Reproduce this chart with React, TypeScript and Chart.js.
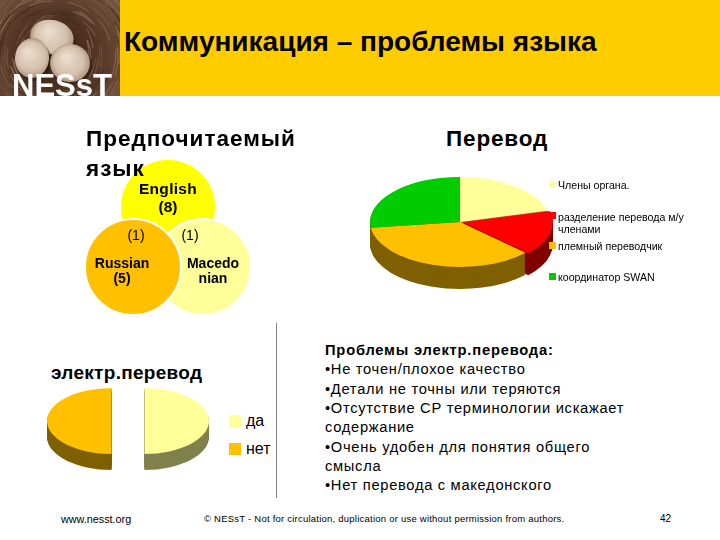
import React, { useEffect, useRef } from "react";
import { Chart, registerables } from "chart.js";

Chart.register(...registerables);

const SANS = '"Liberation Sans", Arial, sans-serif';

// pie "Перевод"
const translateLabels = [
  "Члены органа.",
  "разделение перевода м/у членами",
  "племный переводчик",
  "координатор SWAN",
];
const translateValues = [21, 16, 36, 27];
const translateOffsets = [0, 10, 0, 0];
const translateColors = ["#FFFF99", "#FF0000", "#FFC000", "#00CC00"];
// the green wall is only a sliver at the far left, the original shows it brown
const translateSides = ["#80804C", "#800000", "#7F6000", "#7F6000"];

// pie "электр.перевод"
const onlineLabels = ["да", "нет"];
const onlineValues = [50, 50];
const onlineColors = ["#FFFF99", "#FFC000"];
const onlineSides = ["#80804C", "#7F6000"];

// venn "Предпочитаемый язык"
const vennX = [0, 1, -1];
const vennY = [1, 0, 0];
const vennColors = ["#FFFF00", "#FFFF99", "#FFC000"];

const problemLines = [
  "•Не точен/плохое качество",
  "•Детали не точны или теряются",
  "•Отсутствие СР терминологии искажает",
  "содержание",
  "•Очень удобен для понятия общего",
  "смысла",
  "•Нет перевода с македонского",
];

// squashes the arcs into an ellipse and extrudes them downward
// explode pushes every slice out along its middle angle and keeps the cut edges straight
const tiltPlugin = {
  id: "tilt",
  beforeDatasetDraw(chart: any, args: any, opts: any) {
    const { ctx } = chart;
    const arcs = args.meta.data;
    const cx = arcs[0].x;
    const cy = arcs[0].y;
    const paint = (shift: number, colors?: string[]) => {
      arcs.forEach((arc: any, i: number) => {
        const saved = arc.options;
        const mid = (arc.startAngle + arc.endAngle) / 2;
        if (colors) arc.options = { ...saved, backgroundColor: colors[i] };
        ctx.save();
        ctx.translate(cx + Math.cos(mid) * opts.explode, cy + shift);
        ctx.scale(1, opts.squash);
        ctx.translate(-cx, -cy);
        arc.draw(ctx);
        ctx.restore();
        arc.options = saved;
      });
    };
    for (let d = opts.depth; d > 0; d--) paint(d, opts.sides);
    paint(0);
    return false;
  },
};

function Pie3D({ labels, values, offsets, colors, sides, radius, squash, depth, explode, style }: any) {
  const canvasRef = useRef<HTMLCanvasElement | null>(null);

  useEffect(() => {
    const chart = new Chart(canvasRef.current as HTMLCanvasElement, {
      type: "pie",
      data: {
        labels,
        datasets: [
          {
            data: values,
            backgroundColor: colors,
            offset: offsets || 0,
            borderWidth: 0,
            radius,
          },
        ],
      },
      options: {
        animation: false,
        responsive: false,
        events: [],
        plugins: {
          legend: { display: false },
          tooltip: { enabled: false },
          tilt: { squash, depth, sides, explode: explode || 0 },
        },
      } as any,
      plugins: [tiltPlugin],
    });
    return () => chart.destroy();
  }, []);

  return (
    <canvas
      ref={canvasRef}
      width={style.width}
      height={style.height}
      style={{ position: "absolute", ...style }}
    />
  );
}

function VennChart({ style }: any) {
  const canvasRef = useRef<HTMLCanvasElement | null>(null);

  useEffect(() => {
    const chart = new Chart(canvasRef.current as HTMLCanvasElement, {
      type: "bubble",
      data: {
        datasets: [
          {
            data: vennX.map((x, i) => ({ x, y: vennY[i], r: 48 })),
            backgroundColor: vennColors,
            borderColor: "#FFFFFF",
            borderWidth: 2,
            clip: false,
          },
        ],
      },
      options: {
        animation: false,
        responsive: false,
        events: [],
        layout: { padding: 0, autoPadding: false },
        scales: {
          x: { display: false, min: -100 / 35, max: 100 / 35 },
          y: { display: false, min: -63 / 60, max: 117 / 60 },
        },
        plugins: { legend: { display: false }, tooltip: { enabled: false } },
      },
    });
    return () => chart.destroy();
  }, []);

  return (
    <canvas
      ref={canvasRef}
      width={style.width}
      height={style.height}
      style={{ position: "absolute", ...style }}
    />
  );
}

// the nest photo in the header corner
function NestPicture() {
  const canvasRef = useRef<HTMLCanvasElement | null>(null);

  useEffect(() => {
    const ctx = (canvasRef.current as HTMLCanvasElement).getContext("2d");
    if (!ctx) return;
    const bg = ctx.createRadialGradient(55, 55, 10, 55, 55, 90);
    bg.addColorStop(0, "#3A2418");
    bg.addColorStop(0.5, "#5A3A28");
    bg.addColorStop(1, "#7A5E48");
    ctx.fillStyle = bg;
    ctx.fillRect(0, 0, 120, 96);
    for (let i = 0; i < 220; i++) {
      ctx.strokeStyle = i % 3 === 0 ? "#9C8268" : i % 3 === 1 ? "#38241A" : "#7E6048";
      ctx.lineWidth = 0.6;
      ctx.beginPath();
      const a = (i * 137) % 360;
      const r = 34 + (i * 29) % 64;
      const rad = (a * Math.PI) / 180;
      ctx.arc(55 + (i % 7) * 2 - 6, 55 + (i % 5) * 2 - 4, r, rad, rad + 0.45);
      ctx.stroke();
    }
    const eggs = [
      [52, 37, 22, 17, 0.25],
      [32, 58, 17, 20, 0.1],
      [70, 63, 20, 19, -0.1],
    ];
    eggs.forEach(([x, y, rx, ry, rot]) => {
      ctx.fillStyle = "rgba(40,25,15,0.6)";
      ctx.beginPath();
      ctx.ellipse(x + 2, y + 3, rx, ry, rot, 0, Math.PI * 2);
      ctx.fill();
      const g = ctx.createRadialGradient(x - 4, y - 6, 2, x, y, Math.max(rx, ry));
      g.addColorStop(0, "#EADCCC");
      g.addColorStop(0.7, "#D4BFAA");
      g.addColorStop(1, "#AE9680");
      ctx.fillStyle = g;
      ctx.beginPath();
      ctx.ellipse(x, y, rx, ry, rot, 0, Math.PI * 2);
      ctx.fill();
    });
  }, []);

  return (
    <canvas
      ref={canvasRef}
      width={120}
      height={96}
      style={{ position: "absolute", left: 0, top: 0 }}
    />
  );
}

function Text({ x, y, size, bold, center, spacing, color, children }: any) {
  return (
    <div
      style={{
        position: "absolute",
        left: x,
        top: y,
        transform: center ? "translateX(-50%)" : undefined,
        textAlign: center ? "center" : "left",
        fontFamily: SANS,
        fontSize: size,
        fontWeight: bold ? "bold" : "normal",
        letterSpacing: spacing,
        color: color || "#000000",
        lineHeight: 1,
        whiteSpace: "nowrap",
      }}
    >
      {children}
    </div>
  );
}

function Swatch({ x, y, size, color }: any) {
  return (
    <div
      style={{
        position: "absolute",
        left: x,
        top: y,
        width: size,
        height: size,
        background: color,
      }}
    />
  );
}

export default function App() {
  return (
    <div
      style={{
        position: "fixed",
        left: 0,
        top: 0,
        width: 720,
        height: 540,
        overflow: "hidden",
        background: "#FFFFFF",
      }}
    >
      <div style={{ position: "absolute", left: 120, top: 0, width: 600, height: 96, background: "#FFCC00" }} />
      <NestPicture />
      <Text x={12} y={70} size={31} bold color="#FFFFFF">NESsT</Text>
      <Text x={124} y={28} size={28} bold>Коммуникация – проблемы языка</Text>

      <VennChart style={{ left: 68, top: 150, width: 200, height: 180 }} />
      <Text x={86} y={128} size={22.5} bold spacing={1}>Предпочитаемый</Text>
      <Text x={86} y={158} size={22.5} bold spacing={1}>язык</Text>
      <Text x={168} y={181} size={15.5} bold spacing={0.3} center>English</Text>
      <Text x={168} y={199} size={15.5} bold center>(8)</Text>
      <Text x={136} y={228} size={14} center>(1)</Text>
      <Text x={190} y={228} size={14} center>(1)</Text>
      <Text x={122} y={256} size={14} bold center>Russian</Text>
      <Text x={122} y={271} size={14} bold center>(5)</Text>
      <Text x={213} y={256} size={14} bold center>Macedo</Text>
      <Text x={213} y={271} size={14} bold center>nian</Text>

      <Text x={446} y={128} size={22.5} bold spacing={0.85}>Перевод</Text>
      <Pie3D
        labels={translateLabels}
        values={translateValues}
        offsets={translateOffsets}
        colors={translateColors}
        sides={translateSides}
        radius={90}
        squash={0.5}
        depth={22}
        style={{ left: 355, top: 117, width: 210, height: 210 }}
      />
      <Swatch x={549} y={181} size={7} color={translateColors[0]} />
      <Text x={558} y={180} size={10.6}>{translateLabels[0]}</Text>
      <Swatch x={549} y={212} size={7} color={translateColors[1]} />
      <Text x={558} y={212} size={10.6}>разделение перевода м/у</Text>
      <Text x={558} y={224} size={10.6}>членами</Text>
      <Swatch x={549} y={242} size={7} color={translateColors[2]} />
      <Text x={558} y={241} size={10.6}>{translateLabels[2]}</Text>
      <Swatch x={549} y={273} size={7} color={translateColors[3]} />
      <Text x={558} y={272} size={10.6}>{translateLabels[3]}</Text>

      <div style={{ position: "absolute", left: 276, top: 323, width: 1, height: 175, background: "#808080" }} />

      <Text x={51} y={363} size={19} bold spacing={0.3}>электр.перевод</Text>
      <Pie3D
        labels={onlineLabels}
        values={onlineValues}
        colors={onlineColors}
        sides={onlineSides}
        radius={64.5}
        squash={0.51}
        depth={16}
        explode={16.5}
        style={{ left: 38, top: 331, width: 180, height: 180 }}
      />
      <Swatch x={229} y={415} size={12} color={onlineColors[0]} />
      <Text x={246} y={413} size={16}>{onlineLabels[0]}</Text>
      <Swatch x={229} y={443} size={12} color={onlineColors[1]} />
      <Text x={246} y={441} size={16}>{onlineLabels[1]}</Text>

      <Text x={325} y={343} size={14.7} bold spacing={0.8}>Проблемы электр.перевода:</Text>
      {problemLines.map((line, i) => (
        <Text key={i} x={325} y={362.3 + i * 19.3} size={14.7} spacing={0.7}>{line}</Text>
      ))}

      <Text x={61} y={514} size={10.8}>www.nesst.org</Text>
      <Text x={204} y={514} size={9.5} spacing={0.23}>© NESsT - Not for circulation, duplication or use without permission from authors.</Text>
      <Text x={660} y={514} size={10}>42</Text>
    </div>
  );
}
